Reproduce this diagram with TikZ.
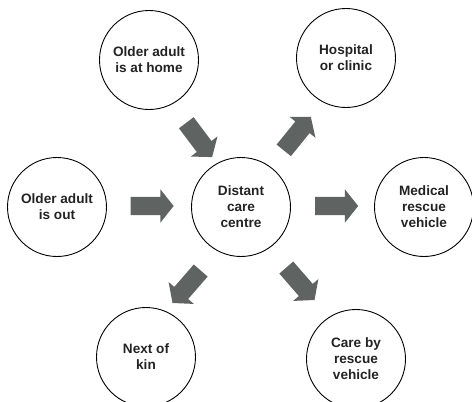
\documentclass[tikz,border=0pt]{standalone}
\usepackage{fontspec}
\setmainfont{Liberation Sans}
\usetikzlibrary{shapes.arrows}
\definecolor{arrowgray}{RGB}{95,99,98}
\definecolor{txt}{RGB}{35,35,35}
\tikzset{
  circ/.style={circle, draw=black, line width=0.9pt, minimum size=99pt, inner sep=0pt,
    align=center, text=txt, font=\bfseries\fontsize{13.6}{16}\selectfont},
  blockarrow/.style={single arrow, fill=arrowgray, draw=none, inner xsep=0pt, inner ysep=9pt,
    minimum height=43pt, single arrow head extend=7.5pt,
    single arrow tip angle=103, anchor=center}
}
\begin{document}
\begin{tikzpicture}[x=1pt,y=-1pt]
\useasboundingbox (0,0) rectangle (472,402);
\node[circ] (home) at (149,60) {Older adult\\is at home};
\node[circ] (hosp) at (346,58) {Hospital\\or clinic};
\node[circ] (out) at (57,207) {Older adult\\is out};
\node[circ] (centre) at (241,207) {Distant\\care\\centre};
\node[circ] (med) at (424,207) {Medical\\rescue\\vehicle};
\node[circ] (kin) at (146,357) {Next of\\kin};
\node[circ] (care) at (356,359) {Care by\\rescue\\vehicle};
\node[blockarrow] (a1) at (148.5,206) {};
\node[blockarrow] (a2) at (333,206) {};
\node[blockarrow, rotate=-53] (a3) at (197,137) {};
\node[blockarrow, rotate=51] (a4) at (295,136.5) {};
\node[blockarrow, rotate=-131] (a5) at (189,284) {};
\node[blockarrow, rotate=-49] (a6) at (298,281) {};
\end{tikzpicture}
\end{document}
